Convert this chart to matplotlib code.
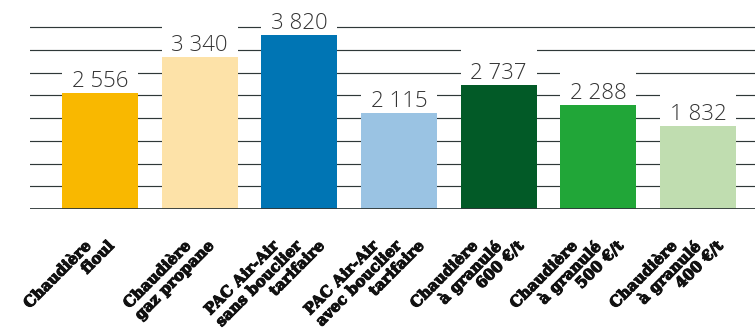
import matplotlib
matplotlib.use('Agg')
import matplotlib.pyplot as plt
import matplotlib.patheffects as pe

# Données du graphique
categories = ['Chaudière\nfioul',
              'Chaudière\ngaz propane',
              'PAC Air-Air\nsans bouclier\ntarifaire',
              'PAC Air-Air\navec bouclier\ntarifaire',
              'Chaudière\nà granulé\n600 €/t',
              'Chaudière\nà granulé\n500 €/t',
              'Chaudière\nà granulé\n400 €/t']
valeurs = [2556, 3340, 3820, 2115, 2737, 2288, 1832]
cores = ['#F9B800', '#FDE2A8', '#0075B4', '#9AC3E3', '#025A27', '#21A638', '#C0DDB0']
grille = [500, 1000, 1500, 2000, 2500, 3000, 3500, 4000]

fig = plt.figure(figsize=(7.55, 3.31), dpi=100)
ax = fig.add_axes([30 / 755, 1 - 209 / 331, 725 / 755, 209 / 331])
ax.set_xlim(-0.702, 6.572)
ax.set_ylim(0, 4600)
ax.axis('off')

# Lignes horizontales
for g in grille:
    ax.axhline(g, color='#2f3838', lw=0.85, zorder=1)
ax.axhline(0, color='#2f3838', lw=1.3, zorder=5)

x = list(range(len(valeurs)))
largeur = 0.76

# Fond blanc derrière les étiquettes
ax.bar(x, [790] * len(valeurs), bottom=valeurs, width=largeur, color='white', zorder=2)
ax.bar(x, valeurs, width=largeur, color=cores, zorder=3)

for i, v in enumerate(valeurs):
    txt = f'{v:,}'.replace(',', ' ')
    ax.text(i, v + 135, txt, ha='center', va='baseline', fontsize=16,
            family='Open Sans', fontweight='light', color='#333333', zorder=4)

# Étiquettes des catégories (inclinées)
epais = [pe.withStroke(linewidth=0.8, foreground='#111111')]
for i, cat in enumerate(categories):
    lignes = cat.split('\n')
    n = len(lignes)
    base = 7 - 23 if n == 2 else 18 - 46
    for k, ligne in enumerate(lignes):
        ax.annotate(ligne, xy=(i, 0), xycoords=('data', 'axes fraction'),
                    xytext=(base + 23 * k, -30), textcoords='offset pixels',
                    rotation=45, rotation_mode='anchor', ha='right', va='top',
                    fontsize=11, family='DejaVu Serif', fontweight='bold',
                    color='#111111', annotation_clip=False, path_effects=epais)

fig.savefig('out.png', dpi=100)
